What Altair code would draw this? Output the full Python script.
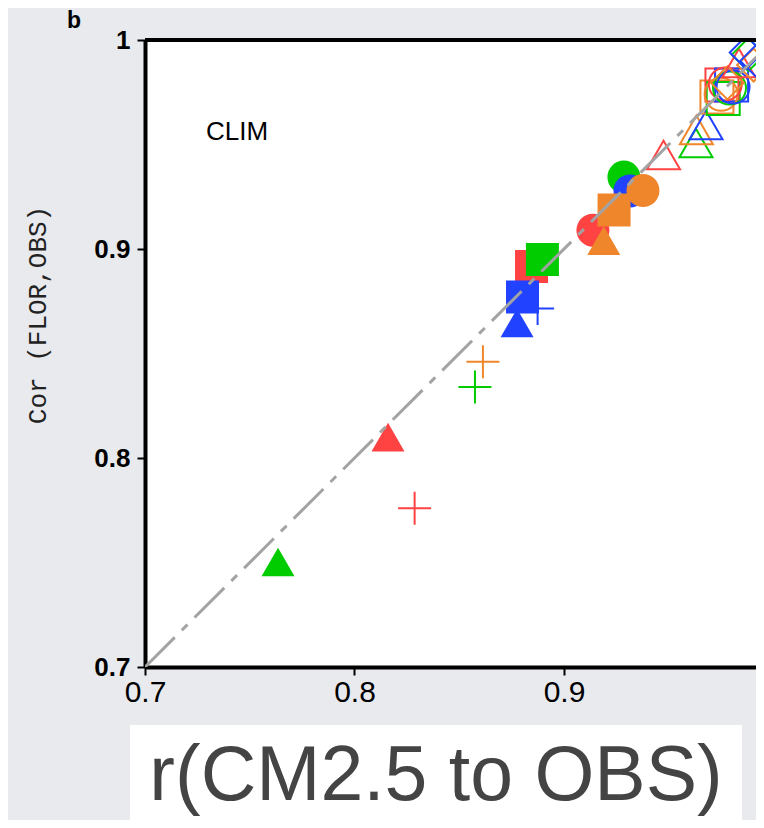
import altair as alt
import pandas as pd

# ---- data ----
# filled markers (kind, colour group, x = r(CM2.5,OBS), y = Cor(FLOR,OBS))
filled_kind = ["circle_f", "circle_f", "circle_f", "circle_f",
               "square_f", "square_f", "square_f", "square_f",
               "tri_f", "tri_f", "tri_f", "tri_f"]
filled_group = ["red", "green", "blue", "orange",
                "red", "green", "blue", "orange",
                "red", "green", "blue", "orange"]
filled_x = [0.9138, 0.9286, 0.9315, 0.9377,
            0.8845, 0.8897, 0.8802, 0.9239,
            0.8160, 0.7635, 0.8776, 0.9190]
filled_y = [0.9090, 0.9344, 0.9278, 0.9280,
            0.8916, 0.8950, 0.8770, 0.9187,
            0.8100, 0.7502, 0.8646, 0.9040]

# plus markers
plus_group = ["red", "green", "blue", "orange"]
plus_x = [0.8287, 0.8575, 0.8874, 0.8613]
plus_y = [0.7760, 0.8340, 0.8715, 0.8460]

# open markers
open_kind = ["tri_o", "tri_o", "tri_o", "tri_o",
             "square_o", "square_o", "square_o", "square_o",
             "circle_o", "circle_o", "circle_o", "circle_o",
             "diamond_o", "tri_o", "diamond_o", "diamond_o", "diamond_o", "diamond_o"]
open_group = ["red", "green", "orange", "blue",
              "orange", "green", "red", "blue",
              "orange", "red", "green", "blue",
              "orange", "red", "green", "orange", "blue", "blue"]
open_x = [0.9475, 0.9630, 0.9632, 0.9678,
          0.9730, 0.9760, 0.9754, 0.9800,
          0.9750, 0.9770, 0.9790, 0.9807,
          0.9780, 0.9835, 0.9880, 0.9905, 0.9870, 0.9920]
open_y = [0.9450, 0.9507, 0.9570, 0.9593,
          0.9727, 0.9720, 0.9785, 0.9785,
          0.9740, 0.9790, 0.9770, 0.9775,
          0.9795, 0.9890, 0.9930, 0.9880, 0.9940, 0.9900]

diag_v = [0.7, 1.0]

x_ticks = [0.7, 0.8, 0.9]
y_ticks = [0.7, 0.8, 0.9, 1.0]

group_names = ["red", "green", "blue", "orange"]
group_colors = ["#ff4343", "#00cc00", "#2142ff", "#f0862b"]

kind_names = ["circle_f", "square_f", "tri_f", "plus",
              "circle_o", "square_o", "tri_o", "diamond_o"]
kind_shapes = ["circle", "square", "triangle-up", "M-1,0H1M0,-1V1",
               "circle", "square", "triangle-up", "diamond"]
kind_sizes = [1089, 1089, 800, 841, 1024, 1369, 1000, 700]

title_text = ["r(CM2.5 to OBS)"]
panel_text = ["b"]
clim_text = ["CLIM"]
ytitle_text = ["Cor (FLOR,OBS)"]

# ---- tables ----
filled_df = pd.DataFrame({"x": filled_x, "y": filled_y, "g": filled_group, "k": filled_kind})
plus_df = pd.DataFrame({"x": plus_x, "y": plus_y, "g": plus_group, "k": ["plus"] * len(plus_x)})
open_df = pd.DataFrame({"x": open_x, "y": open_y, "g": open_group, "k": open_kind})
diag_df = pd.DataFrame({"x": diag_v, "y": diag_v})

W, H = 611, 627

xs = alt.Scale(domain=[0.7, 0.99165], nice=False, zero=False)
ys = alt.Scale(domain=[0.7, 1.0], nice=False, zero=False)
cs = alt.Scale(domain=group_names, range=group_colors)
ss = alt.Scale(domain=kind_names, range=kind_shapes)
zs = alt.Scale(domain=kind_names, range=kind_sizes)

x_axis = alt.Axis(values=x_ticks, format=".1f", title=None, grid=False,
                  labelFont="Liberation Sans", labelFontSize=30, labelColor="black",
                  labelPadding=2, labelFlush=False, labelOverlap=False,
                  domainColor="black", domainWidth=4, tickColor="black",
                  tickWidth=2, tickSize=8)
y_axis = alt.Axis(values=y_ticks, format=".1~f", title=None, grid=False,
                  labelFont="Liberation Sans", labelFontSize=26, labelFontWeight="bold",
                  labelColor="black", labelPadding=7, labelFlush=False, labelOverlap=False,
                  domainColor="black", domainWidth=4, tickColor="black",
                  tickWidth=2, tickSize=8)


def enc(ch):
    return ch.encode(
        x=alt.X("x:Q", scale=xs, axis=x_axis),
        y=alt.Y("y:Q", scale=ys, axis=y_axis),
        color=alt.Color("g:N", scale=cs, legend=None),
        shape=alt.Shape("k:N", scale=ss, legend=None),
        size=alt.Size("k:N", scale=zs, legend=None),
    )


plus_layer = enc(alt.Chart(plus_df).mark_point(filled=False, strokeWidth=2, opacity=1, clip=True))
filled_layer = enc(alt.Chart(filled_df).mark_point(filled=True, opacity=1, strokeWidth=0, clip=True))
open_layer = enc(alt.Chart(open_df).mark_point(filled=False, strokeWidth=2, opacity=1, clip=True))

diag_layer = alt.Chart(diag_df).mark_line(
    color="#a3a3a3", strokeWidth=3, strokeDash=[42, 10, 8, 10], clip=True
).encode(x=alt.X("x:Q", scale=xs, axis=x_axis), y=alt.Y("y:Q", scale=ys, axis=y_axis))

top_rule = alt.Chart(pd.DataFrame({"t": panel_text})).mark_rule(
    color="black", strokeWidth=4
).encode(x=alt.value(0), x2=alt.value(W), y=alt.value(0))

white_box = alt.Chart(pd.DataFrame({"t": title_text})).mark_rect(
    color="white"
).encode(x=alt.value(-15), x2=alt.value(597), y=alt.value(685), y2=alt.value(790))

title_layer = alt.Chart(pd.DataFrame({"t": title_text})).mark_text(
    font="Liberation Sans", fontSize=77, color="#444444", align="center", baseline="alphabetic"
).encode(x=alt.value(291), y=alt.value(760), text="t:N")

b_layer = alt.Chart(pd.DataFrame({"t": panel_text})).mark_text(
    font="Liberation Sans", fontSize=23, fontWeight="bold", color="black",
    align="center", baseline="middle"
).encode(x=alt.value(-71), y=alt.value(-19), text="t:N")

clim_layer = alt.Chart(pd.DataFrame({"t": clim_text})).mark_text(
    font="Liberation Sans", fontSize=26, color="black", align="center", baseline="middle"
).encode(x=alt.value(92), y=alt.value(92), text="t:N")

ytitle_layer = alt.Chart(pd.DataFrame({"t": ytitle_text})).mark_text(
    font="Liberation Mono", fontSize=26, color="#222222", align="center",
    baseline="middle", angle=270
).encode(x=alt.value(-107), y=alt.value(275), text="t:N")

chart = alt.layer(
    white_box, title_layer, plus_layer, filled_layer, open_layer, diag_layer,
    top_rule, b_layer, clim_layer, ytitle_layer
).properties(
    width=W, height=H,
    autosize=alt.AutoSizeParams(type="none"),
    padding={"left": 137, "top": 32, "right": 0, "bottom": 153},
    background="#e8eaed",
).configure_view(stroke=None, fill="white")

chart.save("out.html", embed_options={"renderer": "svg", "actions": False})
